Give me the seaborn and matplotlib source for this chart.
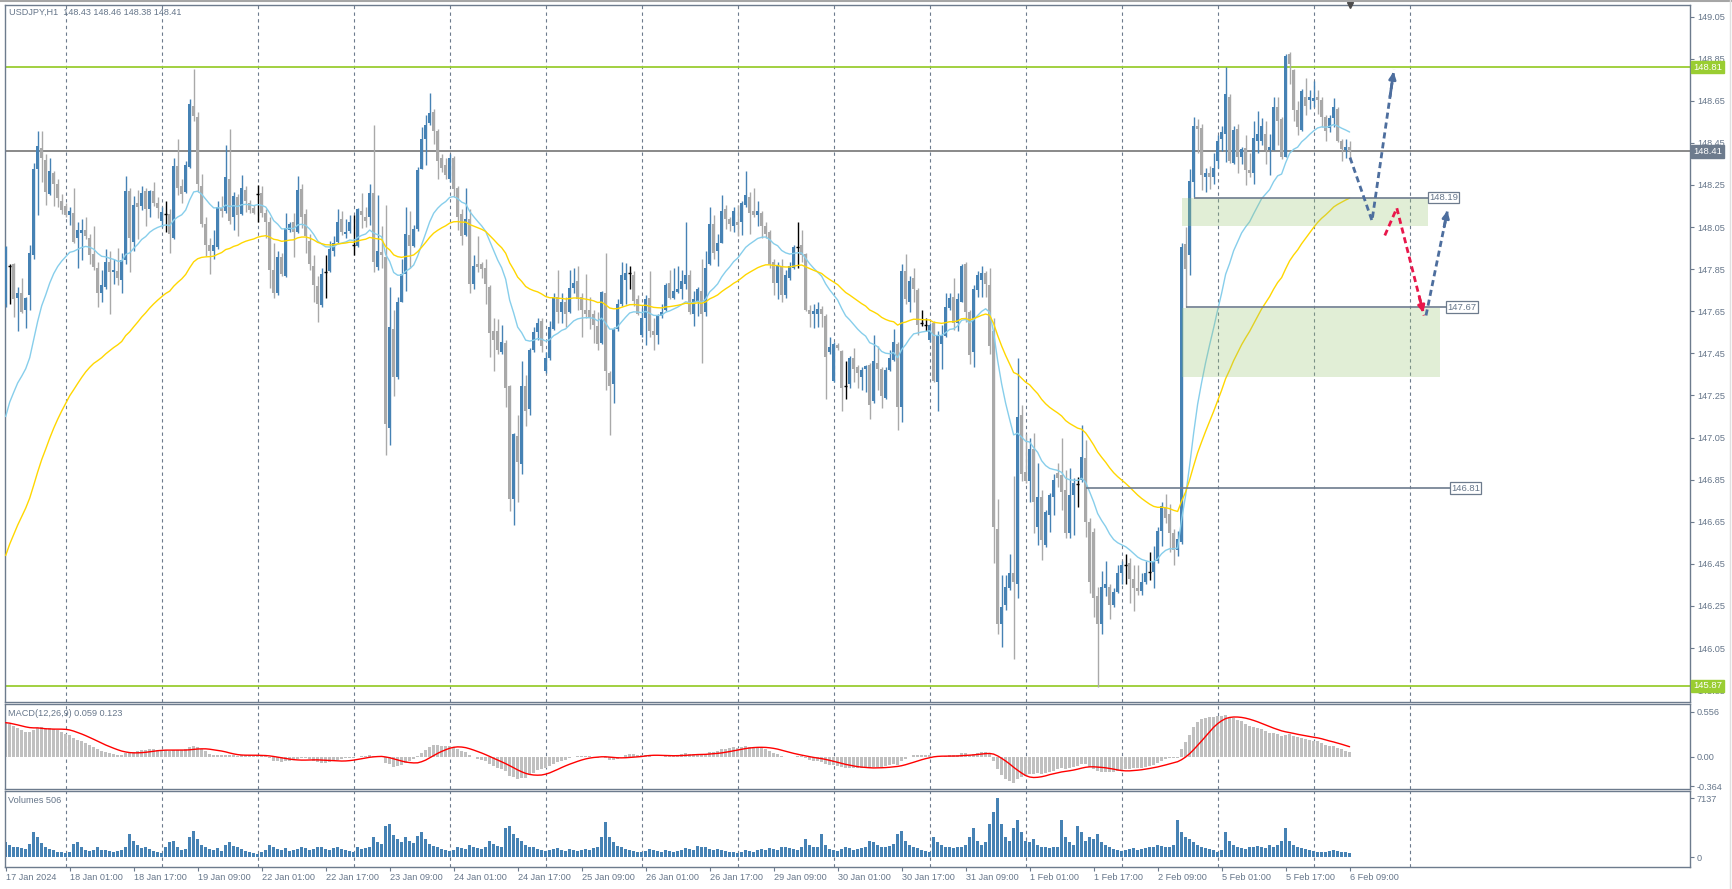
import matplotlib
matplotlib.use("Agg")
import matplotlib.pyplot as plt
import matplotlib.transforms as mtransforms
import numpy as np
import pandas as pd
import seaborn as sns

# USDJPY H1, one bar per hour from 17 Jan 2024 09:00 to 6 Feb 2024 09:00
OPEN = [
    147.686, 147.866, 147.876, 147.712, 147.736, 147.656, 147.726, 147.916, 148.326, 148.426,
    148.370, 148.206, 148.306, 148.256, 148.176, 148.152, 148.106, 148.116, 147.996, 148.022,
    148.036, 148.000, 147.920, 147.856, 147.736, 147.766, 147.886, 147.836, 147.840, 147.800,
    147.892, 148.220, 147.980, 148.166, 148.152, 148.220, 148.136, 148.220, 148.166, 148.080,
    148.110, 148.112, 148.000, 148.340, 148.246, 148.216, 148.336, 148.626, 148.572, 148.246,
    148.066, 147.966, 147.936, 147.956, 148.140, 148.126, 148.280, 148.096, 148.192, 148.112,
    148.226, 148.166, 148.140, 148.206, 148.210, 148.116, 148.072, 147.846, 147.736, 147.906,
    147.816, 148.036, 148.072, 148.026, 148.232, 148.112, 147.986, 147.866, 147.772, 147.680,
    147.836, 147.840, 147.936, 147.980, 148.086, 148.016, 148.032, 147.966, 147.962, 148.126,
    148.100, 148.096, 148.212, 147.860, 147.930, 147.906, 147.096, 147.566, 147.340, 147.696,
    147.826, 148.012, 147.962, 148.040, 148.326, 148.470, 148.546, 148.596, 148.506, 148.380,
    148.346, 148.276, 148.380, 148.236, 148.112, 148.012, 148.086, 147.780, 147.876, 147.876,
    147.856, 147.766, 147.556, 147.556, 147.456, 147.500, 147.296, 146.756, 147.056, 146.926,
    147.296, 147.186, 147.466, 147.552, 147.606, 147.366, 147.426, 147.566, 147.716, 147.646,
    147.696, 147.646, 147.760, 147.796, 147.716, 147.656, 147.656, 147.636, 147.580, 147.500,
    147.736, 147.356, 147.306, 147.566, 147.686, 147.800, 147.830, 147.820, 147.706, 147.536,
    147.616, 147.712, 147.556, 147.536, 147.626, 147.656, 147.786, 147.712, 147.742, 147.756,
    147.780, 147.820, 147.636, 147.696, 147.746, 147.646, 147.876, 148.066, 147.936, 147.976,
    148.136, 148.086, 148.056, 148.076, 148.076, 148.156, 148.192, 148.126, 148.106, 148.116,
    148.056, 148.026, 147.886, 147.786, 147.866, 147.726, 147.806, 147.856, 147.956, 147.966,
    147.920, 147.656, 147.636, 147.636, 147.660, 147.626, 147.456, 147.320, 147.492, 147.460,
    147.296, 147.306, 147.426, 147.386, 147.340, 147.376, 147.396, 147.226, 147.406, 147.376,
    147.240, 147.370, 147.420, 147.496, 147.196, 147.840, 147.696, 147.806, 147.752, 147.596,
    147.584, 147.512, 147.596, 147.316, 147.496, 147.532, 147.666, 147.716, 147.596, 147.696,
    147.876, 147.646, 147.456, 147.752, 147.800, 147.832, 147.776, 147.556, 146.616, 146.166,
    146.256, 146.336, 146.406, 146.356, 147.156, 146.886, 146.846, 146.994, 146.627, 146.769,
    146.540, 146.682, 146.769, 146.880, 146.872, 146.801, 146.595, 146.777, 146.829, 146.848,
    146.951, 146.650, 146.600, 146.296, 146.166, 146.336, 146.340, 146.256, 146.316, 146.406,
    146.446, 146.456, 146.376, 146.336, 146.320, 146.366, 146.410, 146.410, 146.466, 146.606,
    146.716, 146.686, 146.596, 146.516, 146.556, 147.968, 147.916, 148.264, 148.528, 148.521,
    148.287, 148.305, 148.287, 148.366, 148.470, 148.493, 148.670, 148.354, 148.518, 148.385,
    148.427, 148.322, 148.306, 148.458, 148.461, 148.490, 148.414, 148.414, 148.620, 148.561,
    148.385, 148.873, 148.797, 148.604, 148.512, 148.670, 148.654, 148.648, 148.670, 148.654,
    148.572, 148.521, 148.569, 148.609, 148.461, 148.414, 148.430,
]
HIGH = [
    147.960, 147.876, 147.880, 147.766, 147.806, 147.720, 147.966, 148.356, 148.506, 148.506,
    148.396, 148.380, 148.316, 148.280, 148.206, 148.166, 148.146, 148.236, 148.076, 148.086,
    148.096, 148.016, 148.056, 147.886, 147.846, 147.946, 147.936, 147.896, 147.952, 147.926,
    148.292, 148.236, 148.196, 148.226, 148.246, 148.236, 148.226, 148.266, 148.192, 148.146,
    148.176, 148.136, 148.380, 148.466, 148.276, 148.366, 148.660, 148.800, 148.596, 148.300,
    148.096, 147.996, 148.036, 148.176, 148.196, 148.440, 148.516, 148.216, 148.206, 148.296,
    148.246, 148.180, 148.156, 148.250, 148.246, 148.136, 148.096, 147.976, 147.936, 147.926,
    148.116, 148.076, 148.116, 148.292, 148.256, 148.136, 148.016, 147.916, 147.816, 147.856,
    147.916, 147.986, 148.006, 148.136, 148.126, 148.086, 148.106, 148.106, 148.140, 148.212,
    148.146, 148.256, 148.536, 148.200, 148.056, 148.156, 147.766, 147.656, 147.716, 147.896,
    148.146, 148.126, 148.060, 148.336, 148.526, 148.580, 148.686, 148.612, 148.516, 148.396,
    148.376, 148.396, 148.386, 148.246, 148.136, 148.236, 148.136, 147.916, 148.006, 147.886,
    147.896, 147.776, 147.616, 147.612, 147.586, 147.512, 147.300, 147.072, 147.156, 147.416,
    147.346, 147.476, 147.576, 147.616, 147.616, 147.456, 147.606, 147.736, 147.846, 147.736,
    147.716, 147.846, 147.856, 147.866, 147.736, 147.826, 147.716, 147.656, 147.646, 147.746,
    147.926, 147.366, 147.576, 147.706, 147.886, 147.880, 147.866, 147.840, 147.726, 147.666,
    147.726, 147.840, 147.616, 147.636, 147.686, 147.786, 147.846, 147.856, 147.866, 147.846,
    148.076, 147.846, 147.746, 147.766, 147.896, 147.936, 148.146, 148.106, 148.016, 148.200,
    148.156, 148.100, 148.146, 148.156, 148.176, 148.316, 148.216, 148.236, 148.176, 148.126,
    148.076, 148.036, 147.896, 147.886, 147.896, 147.846, 147.886, 147.966, 148.076, 148.036,
    147.926, 147.680, 147.686, 147.696, 147.676, 147.636, 147.526, 147.506, 147.500, 147.466,
    147.416, 147.436, 147.476, 147.396, 147.386, 147.396, 147.406, 147.536, 147.486, 147.386,
    147.386, 147.466, 147.566, 147.506, 147.876, 147.920, 147.816, 147.856, 147.760, 147.656,
    147.616, 147.596, 147.606, 147.556, 147.586, 147.736, 147.736, 147.806, 147.736, 147.876,
    147.886, 147.656, 147.776, 147.840, 147.866, 147.840, 147.856, 147.616, 146.756, 146.396,
    146.396, 146.496, 146.866, 147.426, 147.206, 147.066, 147.046, 147.070, 146.927, 146.801,
    146.706, 146.785, 146.877, 146.927, 147.046, 146.896, 146.904, 146.856, 146.864, 147.109,
    147.038, 146.670, 146.620, 146.340, 146.416, 146.466, 146.356, 146.336, 146.446, 146.466,
    146.496, 146.476, 146.446, 146.446, 146.406, 146.466, 146.506, 146.536, 146.626, 146.746,
    146.780, 146.736, 146.616, 146.606, 147.976, 148.050, 148.327, 148.572, 148.561, 148.540,
    148.330, 148.340, 148.400, 148.485, 148.530, 148.810, 148.680, 148.530, 148.540, 148.430,
    148.485, 148.400, 148.556, 148.600, 148.570, 148.556, 148.490, 148.667, 148.670, 148.572,
    148.873, 148.880, 148.800, 148.650, 148.707, 148.760, 148.700, 148.743, 148.700, 148.667,
    148.580, 148.580, 148.664, 148.620, 148.470, 148.470, 148.460,
]
LOW = [
    147.672, 147.686, 147.622, 147.556, 147.642, 147.572, 147.656, 147.896, 148.106, 148.266,
    148.156, 148.202, 148.152, 148.146, 148.112, 148.096, 148.062, 147.972, 147.856, 147.892,
    147.992, 147.876, 147.846, 147.672, 147.696, 147.756, 147.636, 147.780, 147.776, 147.736,
    147.876, 147.836, 147.936, 147.992, 148.132, 148.056, 148.096, 148.152, 148.092, 148.052,
    148.026, 147.926, 147.992, 148.200, 148.166, 148.212, 148.332, 148.552, 148.216, 148.052,
    147.912, 147.826, 147.896, 147.946, 148.096, 148.116, 148.066, 148.036, 148.006, 148.106,
    148.120, 148.116, 148.112, 148.076, 148.096, 147.996, 147.760, 147.712, 147.726, 147.816,
    147.812, 148.026, 147.906, 148.020, 148.046, 147.926, 147.846, 147.696, 147.600, 147.672,
    147.712, 147.836, 147.912, 147.976, 148.012, 148.000, 148.020, 147.916, 147.956, 148.046,
    148.052, 148.060, 147.836, 147.846, 147.856, 146.966, 147.016, 147.246, 147.326, 147.692,
    147.746, 147.856, 147.956, 148.032, 148.324, 148.346, 148.536, 148.446, 148.276, 148.312,
    148.276, 148.266, 148.192, 148.036, 147.966, 148.006, 147.736, 147.756, 147.836, 147.806,
    147.686, 147.432, 147.366, 147.446, 147.446, 147.196, 146.700, 146.636, 146.746, 146.876,
    147.106, 147.156, 147.456, 147.512, 147.456, 147.356, 147.420, 147.560, 147.592, 147.592,
    147.576, 147.640, 147.736, 147.656, 147.526, 147.620, 147.566, 147.500, 147.466, 147.496,
    147.276, 147.060, 147.216, 147.556, 147.676, 147.686, 147.756, 147.676, 147.632, 147.526,
    147.492, 147.526, 147.466, 147.496, 147.616, 147.652, 147.706, 147.706, 147.736, 147.706,
    147.756, 147.636, 147.580, 147.626, 147.406, 147.626, 147.872, 147.896, 147.866, 147.972,
    148.040, 148.032, 148.026, 148.006, 148.012, 148.146, 148.016, 148.100, 148.056, 147.996,
    148.000, 147.856, 147.726, 147.706, 147.696, 147.712, 147.800, 147.852, 147.856, 147.886,
    147.652, 147.576, 147.572, 147.576, 147.576, 147.232, 147.446, 147.316, 147.466, 147.176,
    147.232, 147.286, 147.316, 147.286, 147.276, 147.266, 147.140, 147.216, 147.276, 147.192,
    147.232, 147.366, 147.416, 147.086, 147.126, 147.686, 147.646, 147.696, 147.536, 147.580,
    147.556, 147.506, 147.316, 147.176, 147.376, 147.526, 147.656, 147.560, 147.556, 147.692,
    147.600, 147.400, 147.386, 147.720, 147.720, 147.716, 147.446, 146.456, 146.116, 146.056,
    146.232, 146.326, 145.996, 146.286, 146.846, 146.836, 146.745, 146.595, 146.540, 146.468,
    146.532, 146.603, 146.682, 146.817, 146.706, 146.571, 146.571, 146.587, 146.718, 146.840,
    146.579, 146.310, 146.200, 145.866, 146.116, 146.296, 146.186, 146.246, 146.312, 146.356,
    146.356, 146.266, 146.226, 146.300, 146.300, 146.356, 146.372, 146.336, 146.456, 146.536,
    146.646, 146.506, 146.446, 146.486, 146.546, 147.670, 147.821, 148.192, 148.400, 148.224,
    148.215, 148.230, 148.255, 148.330, 148.410, 148.360, 148.354, 148.348, 148.306, 148.350,
    148.250, 148.287, 148.256, 148.400, 148.440, 148.350, 148.296, 148.414, 148.440, 148.375,
    148.385, 148.730, 148.556, 148.485, 148.508, 148.580, 148.610, 148.620, 148.588, 148.525,
    148.460, 148.500, 148.525, 148.454, 148.366, 148.380, 148.380,
]
CLOSE = [
    147.956, 147.866, 147.706, 147.736, 147.646, 147.712, 147.926, 148.326, 148.436, 148.376,
    148.216, 148.316, 148.256, 148.186, 148.132, 148.108, 148.126, 147.980, 148.036, 148.036,
    148.006, 147.916, 147.860, 147.736, 147.776, 147.886, 147.836, 147.846, 147.806, 147.892,
    148.220, 147.996, 148.156, 148.146, 148.212, 148.136, 148.220, 148.166, 148.140, 148.120,
    148.110, 148.016, 148.340, 148.236, 148.206, 148.346, 148.636, 148.576, 148.256, 148.066,
    147.966, 147.936, 147.966, 148.146, 148.126, 148.290, 148.080, 148.196, 148.106, 148.236,
    148.176, 148.132, 148.116, 148.206, 148.116, 148.072, 147.846, 147.736, 147.906, 147.826,
    148.046, 148.066, 148.026, 148.226, 148.096, 148.006, 147.876, 147.776, 147.686, 147.826,
    147.836, 147.946, 147.976, 148.076, 148.026, 148.026, 148.076, 147.966, 148.136, 148.106,
    148.080, 148.212, 147.886, 147.936, 147.916, 147.116, 147.576, 147.336, 147.696, 147.826,
    148.016, 147.962, 148.040, 148.320, 148.470, 148.536, 148.592, 148.506, 148.366, 148.332,
    148.296, 148.380, 148.232, 148.096, 148.006, 148.086, 147.780, 147.866, 147.862, 147.852,
    147.780, 147.546, 147.512, 147.466, 147.506, 147.286, 146.756, 147.066, 146.936, 147.296,
    147.176, 147.466, 147.552, 147.596, 147.486, 147.426, 147.576, 147.716, 147.646, 147.696,
    147.636, 147.760, 147.786, 147.706, 147.656, 147.636, 147.616, 147.586, 147.496, 147.740,
    147.366, 147.296, 147.566, 147.686, 147.820, 147.830, 147.830, 147.700, 147.636, 147.616,
    147.706, 147.556, 147.536, 147.626, 147.646, 147.776, 147.712, 147.746, 147.756, 147.796,
    147.820, 147.646, 147.706, 147.756, 147.636, 147.856, 148.066, 147.926, 147.976, 148.126,
    148.086, 148.066, 148.126, 148.060, 148.166, 148.200, 148.116, 148.106, 148.126, 148.056,
    148.016, 147.876, 147.786, 147.866, 147.726, 147.820, 147.866, 147.956, 147.956, 147.916,
    147.656, 147.636, 147.652, 147.660, 147.636, 147.432, 147.480, 147.496, 147.476, 147.286,
    147.296, 147.426, 147.376, 147.356, 147.370, 147.392, 147.206, 147.416, 147.376, 147.246,
    147.370, 147.426, 147.506, 147.196, 147.840, 147.706, 147.796, 147.756, 147.586, 147.596,
    147.584, 147.586, 147.320, 147.536, 147.536, 147.672, 147.712, 147.596, 147.706, 147.866,
    147.646, 147.440, 147.756, 147.820, 147.832, 147.780, 147.486, 146.626, 146.166, 146.246,
    146.340, 146.406, 146.366, 147.146, 146.876, 146.846, 146.996, 146.745, 146.769, 146.563,
    146.698, 146.777, 146.848, 146.856, 146.793, 146.595, 146.777, 146.832, 146.829, 146.959,
    146.650, 146.366, 146.290, 146.166, 146.340, 146.356, 146.256, 146.316, 146.406, 146.446,
    146.446, 146.376, 146.336, 146.320, 146.366, 146.406, 146.410, 146.466, 146.606, 146.726,
    146.666, 146.596, 146.516, 146.566, 147.956, 147.852, 148.268, 148.528, 148.515, 148.295,
    148.305, 148.290, 148.330, 148.460, 148.500, 148.680, 148.366, 148.510, 148.385, 148.422,
    148.322, 148.306, 148.472, 148.490, 148.528, 148.414, 148.430, 148.620, 148.556, 148.385,
    148.862, 148.825, 148.604, 148.525, 148.694, 148.627, 148.670, 148.664, 148.654, 148.575,
    148.506, 148.569, 148.620, 148.461, 148.422, 148.430, 148.410,
]
VOLUME = [
    1800, 1500, 1300, 1200, 1100, 1000, 1600, 3000, 2500, 1700, 1300, 1000, 900, 700, 600,
    500, 600, 1600, 1800, 1200, 900, 800, 900, 1300, 900, 900, 800, 700, 800, 900, 1200, 2800,
    2000, 1500, 1100, 1300, 1000, 800, 600,
    500, 1300, 1800, 2000, 1200, 900, 1000, 2500, 3200, 2200, 1500, 1200, 1000, 900, 1100, 800,
    1500, 1900, 1400, 1200, 1000, 800, 700, 500,
    400, 600, 900, 1500, 1300, 1000, 900, 1100, 800, 900, 1000, 1200, 1100, 900, 1000, 1300,
    1200, 1000, 900, 1100, 1300, 1000, 900, 800,
    700, 1200, 1000, 1100, 1300, 2400, 1800, 1600, 3800, 4000, 2700, 2200, 1800, 2500, 2000,
    1700, 2600, 3000, 2200, 1600, 1400, 1300, 1000, 900,
    800, 900, 1200, 1100, 1000, 1500, 1300, 1100, 1000, 1200, 2000, 1600, 1400, 1300, 3500,
    3800, 2800, 2300, 2000, 1500, 1300, 1200, 1000, 900,
    800, 900, 1000, 1100, 900, 800, 1000, 900, 800, 900, 1000, 900, 1100, 1200, 2500, 4200,
    2500, 1800, 1400, 1300, 1000, 900, 800, 700,
    600, 800, 1000, 900, 800, 700, 900, 800, 700, 800, 900, 1100, 1000, 900, 1400, 1300, 1200,
    1000, 900, 1000, 900, 800, 700, 600,
    500, 700, 900, 800, 700, 900, 1000, 900, 1100, 1000, 900, 1200, 1300, 1100, 1000, 900, 1200,
    2200, 1500, 1300, 1200, 2800, 1500, 1000,
    900, 800, 1000, 1200, 1100, 900, 1000, 1100, 1200, 2000, 1800, 1500, 1300, 1200, 1400, 1600,
    2800, 3200, 2000, 1500, 1300, 1100, 900, 800,
    700, 2500, 1800, 1500, 1300, 1200, 1100, 1200, 1300, 1500, 2500, 3500, 2000, 1500, 1800,
    4000, 5500, 7137, 4000, 2500, 2000, 3500, 4500, 3000,
    2000, 1800, 2200, 1500, 1300, 1200, 1100, 1300, 1200, 4500, 2500, 1800, 1500, 3800, 3000,
    2000, 2500, 2200, 2800, 1800, 1500, 1200, 1000, 900,
    800, 900, 1000, 1100, 900, 1000, 1100, 1200, 1300, 1500, 1400, 1300, 1200, 1500, 4500, 3000,
    2500, 2200, 1800, 1500, 1300, 1100, 1000, 900,
    700, 900, 3000, 2000, 1500, 1200, 1100, 1000, 1200, 1300, 1400, 1200, 1100, 1500, 1300, 1500,
    2000, 3500, 2000, 1500, 1300, 1100, 1000, 900,
    800, 700, 600, 700, 800, 900, 800, 700, 600, 506,
]
TIME_LABELS = [
    "17 Jan 2024", "18 Jan 01:00", "18 Jan 17:00", "19 Jan 09:00", "22 Jan 01:00",
    "22 Jan 17:00", "23 Jan 09:00", "24 Jan 01:00", "24 Jan 17:00", "25 Jan 09:00",
    "26 Jan 01:00", "26 Jan 17:00", "29 Jan 09:00", "30 Jan 01:00", "30 Jan 17:00",
    "31 Jan 09:00", "1 Feb 01:00", "1 Feb 17:00", "2 Feb 09:00", "5 Feb 01:00",
    "5 Feb 17:00", "6 Feb 09:00",
]
LABEL_EVERY = 16
FIRST_MIDNIGHT = 15  # bar index of 18 Jan 00:00, dashed day separators every 24 bars

# indicator values at the first visible bar
MA_FAST_START = 147.15   # light blue MA(20)
MA_SLOW_START = 146.49   # yellow MA(50)
EMA12_START = 147.62
EMA26_START = 147.20

LEVELS_GREEN = [148.81, 145.87]
LAST_PRICE = 148.41
MARKED = [148.19, 147.67, 146.81]
MARKED_FROM = [297, 295, 270]
MARKED_TO = [355.6, 360.2, 361.0]
ZONES = [(148.056, 148.186, 294.1, 355.6), (147.338, 147.664, 294.1, 358.6)]
SCENARIO_UP = [(336.1, 148.38), (341.6, 148.08), (347.1, 148.80)]
SCENARIO_DOWN = [(344.8, 148.01), (347.8, 148.14), (354.6, 147.63)]
SCENARIO_REBOUND = [(355.1, 147.63), (360.6, 148.14)]

BLUE = "#4682B4"
GRAY = "#A9A9A9"
FRAME = "#6D7B8D"
TEXT = "#66768A"
GREEN = "#9ACD32"

sns.set_style("white")
plt.rcParams["font.family"] = ["Liberation Sans", "DejaVu Sans"]
plt.rcParams["font.size"] = 6.6

df = pd.DataFrame({"open": OPEN, "high": HIGH, "low": LOW, "close": CLOSE, "volume": VOLUME})
df["bar"] = np.arange(len(df))


def ema(values, span, start):
    s = pd.Series(values, dtype=float).copy()
    s.iloc[0] = start
    return s.ewm(span=span, adjust=False).mean()


df["ma_fast"] = ema(df["close"], 20, MA_FAST_START)
df["ma_slow"] = ema(df["close"], 50, MA_SLOW_START)
df["macd"] = ema(df["close"], 12, EMA12_START) - ema(df["close"], 26, EMA26_START)
df["signal"] = df["macd"].rolling(9, min_periods=1).mean()

W, H = 1733, 889
fig = plt.figure(figsize=(W / 100, H / 100), dpi=100)


def px_axes(left, top, right, bottom):
    return fig.add_axes([left / W, 1 - bottom / H, (right - left) / W, (bottom - top) / H])


ax = px_axes(4.5, 4.5, 1690, 702)
ax_macd = px_axes(4.5, 704, 1690, 789)
ax_vol = px_axes(4.5, 791, 1690, 867)
XLIM = (-0.3, 421.1)

for a in (ax, ax_macd, ax_vol):
    a.set_xlim(*XLIM)
    for sp in a.spines.values():
        sp.set_color(FRAME)
        sp.set_linewidth(1)
    a.yaxis.tick_right()
    a.tick_params(axis="y", direction="out", length=3, width=0.8, color=FRAME,
                  labelcolor=TEXT, labelsize=6.6, pad=2)
    a.tick_params(axis="x", bottom=False, labelbottom=False)
    for d in range(FIRST_MIDNIGHT, 352, 24):
        a.axvline(d, color=FRAME, lw=0.8, ls=(0, (3, 3)), zorder=1)

# candles
up = df["close"] > df["open"]
down = df["close"] < df["open"]
flat = ~(up | down)
colors = np.where(up, BLUE, np.where(down, GRAY, "black"))
ax.vlines(df["bar"], df["low"], df["high"], colors=colors, lw=1, zorder=3)
body_lo = df[["open", "close"]].min(axis=1)
body_h = (df["close"] - df["open"]).abs().clip(lower=0.006)
solid = ~flat
ax.bar(df["bar"][solid], body_h[solid], bottom=body_lo[solid], width=0.75,
       color=colors[solid.values], linewidth=0, zorder=3)
ax.hlines(df["close"][flat], df["bar"][flat] - 0.4, df["bar"][flat] + 0.4,
          colors="black", lw=1, zorder=3)

sns.lineplot(data=df, x="bar", y="ma_fast", ax=ax, color="#87CEEB", lw=1, zorder=4)
sns.lineplot(data=df, x="bar", y="ma_slow", ax=ax, color="#FFD700", lw=1, zorder=4)

# levels, zones, marked prices
for lv in LEVELS_GREEN:
    ax.axhline(lv, color=GREEN, lw=1.3, zorder=2)
ax.axhline(LAST_PRICE, color="#808080", lw=1.3, zorder=2)
for lo, hi, x0, x1 in ZONES:
    ax.fill_between([x0, x1], lo, hi, color="#9DC77A", alpha=0.3, lw=0, zorder=5)
for p, x0, x1 in zip(MARKED, MARKED_FROM, MARKED_TO):
    ax.hlines(p, x0, x1, color=FRAME, lw=1.2, zorder=5)
    ax.text(x1 + 0.3, p, f"{p:.2f}", va="center", ha="left", color=TEXT, fontsize=6.8, zorder=6,
            bbox=dict(boxstyle="square,pad=0.12", fc="white", ec=FRAME, lw=0.9))

for path, col in ((SCENARIO_UP, "#4D6E9E"), (SCENARIO_DOWN, "#E8174B"), (SCENARIO_REBOUND, "#4D6E9E")):
    xs, ys = zip(*path)
    ax.plot(xs, ys, color=col, lw=2, ls=(0, (2.2, 1.4)), zorder=6)
    ax.annotate("", xy=(xs[-1], ys[-1]), xytext=(xs[-2] + (xs[-1] - xs[-2]) * 0.8,
                                                   ys[-2] + (ys[-1] - ys[-2]) * 0.8),
                arrowprops=dict(arrowstyle="-|>,head_length=0.6,head_width=0.3", color=col, lw=2),
                zorder=6)

ax.set_ylim(145.794, 149.107)
price_ticks = np.round(np.arange(145.85, 149.06, 0.2), 2)
ax.set_yticks(price_ticks)
ax.set_yticklabels([f"{t:.2f}" for t in price_ticks])
ytr = ax.get_yaxis_transform()
for lv, col in ((148.81, GREEN), (LAST_PRICE, "#6D7B8D"), (145.87, GREEN)):
    ax.annotate(f"{lv:.2f}", xy=(1, lv), xycoords=ytr, xytext=(3, 0), textcoords="offset pixels",
                va="center", ha="left", color="white", fontsize=6.8, annotation_clip=False, zorder=10,
                bbox=dict(boxstyle="square,pad=0.2", fc=col, ec=col))
ax.annotate("USDJPY,H1  148.43 148.46 148.38 148.41", xy=(0, 1), xycoords="axes fraction",
            xytext=(4.5, -8.3), textcoords="offset pixels", va="center", ha="left", color=TEXT)
ax.plot([336], [1.0], transform=mtransforms.blended_transform_factory(ax.transData, ax.transAxes),
        marker="v", ms=5, color="#4D4D4D", clip_on=False, zorder=10)
ax.set_xlabel("")
ax.set_ylabel("")

# MACD
ax_macd.bar(df["bar"], df["macd"], width=0.72, color="#C0C0C0", linewidth=0, zorder=2)
sns.lineplot(data=df, x="bar", y="signal", ax=ax_macd, color="red", lw=1, zorder=3)
ax_macd.set_ylim(-0.399, 0.651)
ax_macd.set_yticks([0.556, 0.0, -0.364])
ax_macd.set_yticklabels(["0.556", "0.00", "-0.364"])
ax_macd.annotate("MACD(12,26,9) 0.059 0.123", xy=(0, 1), xycoords="axes fraction",
                 xytext=(3.5, -9), textcoords="offset pixels", va="center", ha="left", color=TEXT)
ax_macd.set_xlabel("")
ax_macd.set_ylabel("")

# Volumes
ax_vol.bar(df["bar"], df["volume"], width=0.72, color=BLUE, linewidth=0, zorder=2)
ax_vol.set_ylim(-1140, 7977)
ax_vol.set_yticks([0, 7137])
ax_vol.set_yticklabels(["0", "7137"])
ax_vol.annotate("Volumes 506", xy=(0, 1), xycoords="axes fraction",
                xytext=(3.5, -9.7), textcoords="offset pixels", va="center", ha="left", color=TEXT)
ax_vol.set_xticks(np.arange(len(TIME_LABELS)) * LABEL_EVERY)
ax_vol.set_xticklabels(TIME_LABELS, ha="left")
ax_vol.tick_params(axis="x", bottom=True, labelbottom=True, direction="out", length=3, width=0.8,
                   color=FRAME, labelcolor=TEXT, labelsize=6.6, pad=1)
ax_vol.set_xlabel("")
ax_vol.set_ylabel("")

fig.add_artist(plt.Line2D([0, 1], [1 - 1 / H] * 2, transform=fig.transFigure, color="#A6A6A6", lw=1.5))
fig.add_artist(plt.Line2D([1730 / W] * 2, [0, 1], transform=fig.transFigure, color="#E0E0E0", lw=1))

fig.savefig("out.png", dpi=100)
